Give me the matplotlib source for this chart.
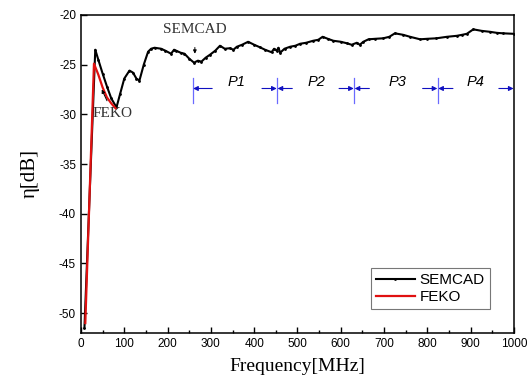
import matplotlib
matplotlib.use("Agg")
import matplotlib.pyplot as plt

plt.rcParams["axes.unicode_minus"] = False

# datos
semcad_f = [8, 33, 40, 50, 60, 70, 82, 90, 100, 112, 120, 128, 135, 145, 155, 162, 170, 185, 195,
            208, 215, 220, 230, 239, 250, 261, 270, 278, 288, 298, 310, 321, 332, 344, 352, 360,
            372, 386, 400, 413, 425, 440, 446, 452, 456, 460, 470, 483, 495, 506, 520, 536, 548,
            558, 570, 583, 600, 614, 625, 637, 644, 652, 664, 680, 698, 712, 725, 744, 760, 783,
            800, 821, 845, 868, 880, 891, 906, 925, 945, 960, 975, 1000]
semcad_db = [-51.5, -23.5, -24.5, -25.9, -27.2, -28.4, -29.3, -28.0, -26.4, -25.6, -25.8, -26.4,
             -26.6, -25.0, -23.7, -23.4, -23.3, -23.4, -23.6, -23.9, -23.5, -23.6, -23.8, -23.9,
             -24.4, -24.8, -24.6, -24.7, -24.3, -24.0, -23.6, -23.1, -23.4, -23.35, -23.5, -23.2,
             -23.0, -22.7, -23.0, -23.25, -23.5, -23.75, -23.4, -23.6, -23.3, -23.8, -23.4, -23.2,
             -23.1, -22.9, -22.8, -22.6, -22.5, -22.2, -22.4, -22.6, -22.7, -22.85, -23.0, -22.8,
             -23.0, -22.7, -22.45, -22.4, -22.35, -22.2, -21.85, -22.0, -22.2, -22.45, -22.4,
             -22.35, -22.2, -22.1, -22.0, -21.9, -21.45, -21.6, -21.7, -21.8, -21.85, -21.9]

feko_f = [10, 30, 40, 50, 60, 70, 80]
feko_db = [-51.0, -24.9, -26.0, -27.3, -28.3, -28.9, -29.4]

# limites de las bandas P1..P4
band_edges = [258, 453, 631, 824, 1000]
band_names = ["P1", "P2", "P3", "P4"]
band_label_x = [360, 544, 732, 910]

fig = plt.figure(figsize=(5.31, 3.83), dpi=100)
ax = fig.add_axes([0.1525, 0.1305, 0.8155, 0.8305])

ax.plot(semcad_f, semcad_db, color="black", lw=1.5, marker=".", markersize=2, label="SEMCAD")
ax.plot(feko_f, feko_db, color="#e01010", lw=1.6, label="FEKO")

# marcadores de bandas
y_b = -27.4
arr = dict(arrowstyle="-|>", color="#1010c0", lw=0.8, mutation_scale=7, shrinkA=0, shrinkB=0)
for i, e in enumerate(band_edges):
    if e < 1000:
        ax.plot([e, e], [-26.3, -28.9], color="#6a6aff", lw=0.9)
    if i > 0:
        ax.annotate("", xy=(e - 1, y_b), xytext=(e - 35, y_b), arrowprops=arr)
    if e < 1000:
        ax.annotate("", xy=(e + 1, y_b), xytext=(e + 35 if i > 0 else e + 45, y_b),
                    arrowprops=arr)
for name, xl in zip(band_names, band_label_x):
    ax.text(xl, -26.7, name, fontsize=10.5, style="italic", ha="center", va="center",
            family="Liberation Sans")

# etiquetas de las curvas
ax.annotate("SEMCAD", xy=(263, -23.9), xytext=(263, -21.5), ha="center", va="center",
            fontsize=11, family="Liberation Serif", color="#333333",
            arrowprops=dict(arrowstyle="-|>", color="black", lw=0.7, mutation_scale=5,
                            shrinkA=6, shrinkB=0))
ax.annotate("FEKO", xy=(48, -27.5), xytext=(74, -29.95), ha="center", va="center",
            fontsize=11, family="Liberation Serif", color="#333333",
            arrowprops=dict(arrowstyle="-|>", color="black", lw=0.7, mutation_scale=5,
                            shrinkA=3, shrinkB=0))

ax.set_xlim(0, 1000)
ax.set_ylim(-52, -20)
ax.set_xticks(range(0, 1001, 100))
ax.set_xticks(range(50, 1000, 100), minor=True)
ax.set_yticks(range(-50, -19, 5))
ax.tick_params(direction="in", length=4, width=1, labelsize=8.5)
ax.tick_params(which="minor", direction="in", length=2.5, width=1)
for lab in ax.get_xticklabels() + ax.get_yticklabels():
    lab.set_family("Liberation Sans")
for s in ax.spines.values():
    s.set_linewidth(1.1)

ax.set_xlabel("Frequency[MHz]", fontsize=14, family="Liberation Serif", labelpad=6)
ax.set_ylabel("η[dB]", fontsize=15, family="Liberation Serif", labelpad=14)

leg = ax.legend(loc="lower right", prop={"family": "Liberation Sans", "size": 11},
                fancybox=False, edgecolor="#555555", handlelength=2.6,
                borderaxespad=1.6, labelspacing=0.2, borderpad=0.3, handletextpad=0.3)
leg.get_frame().set_linewidth(0.8)

fig.savefig("out.png", dpi=100)
